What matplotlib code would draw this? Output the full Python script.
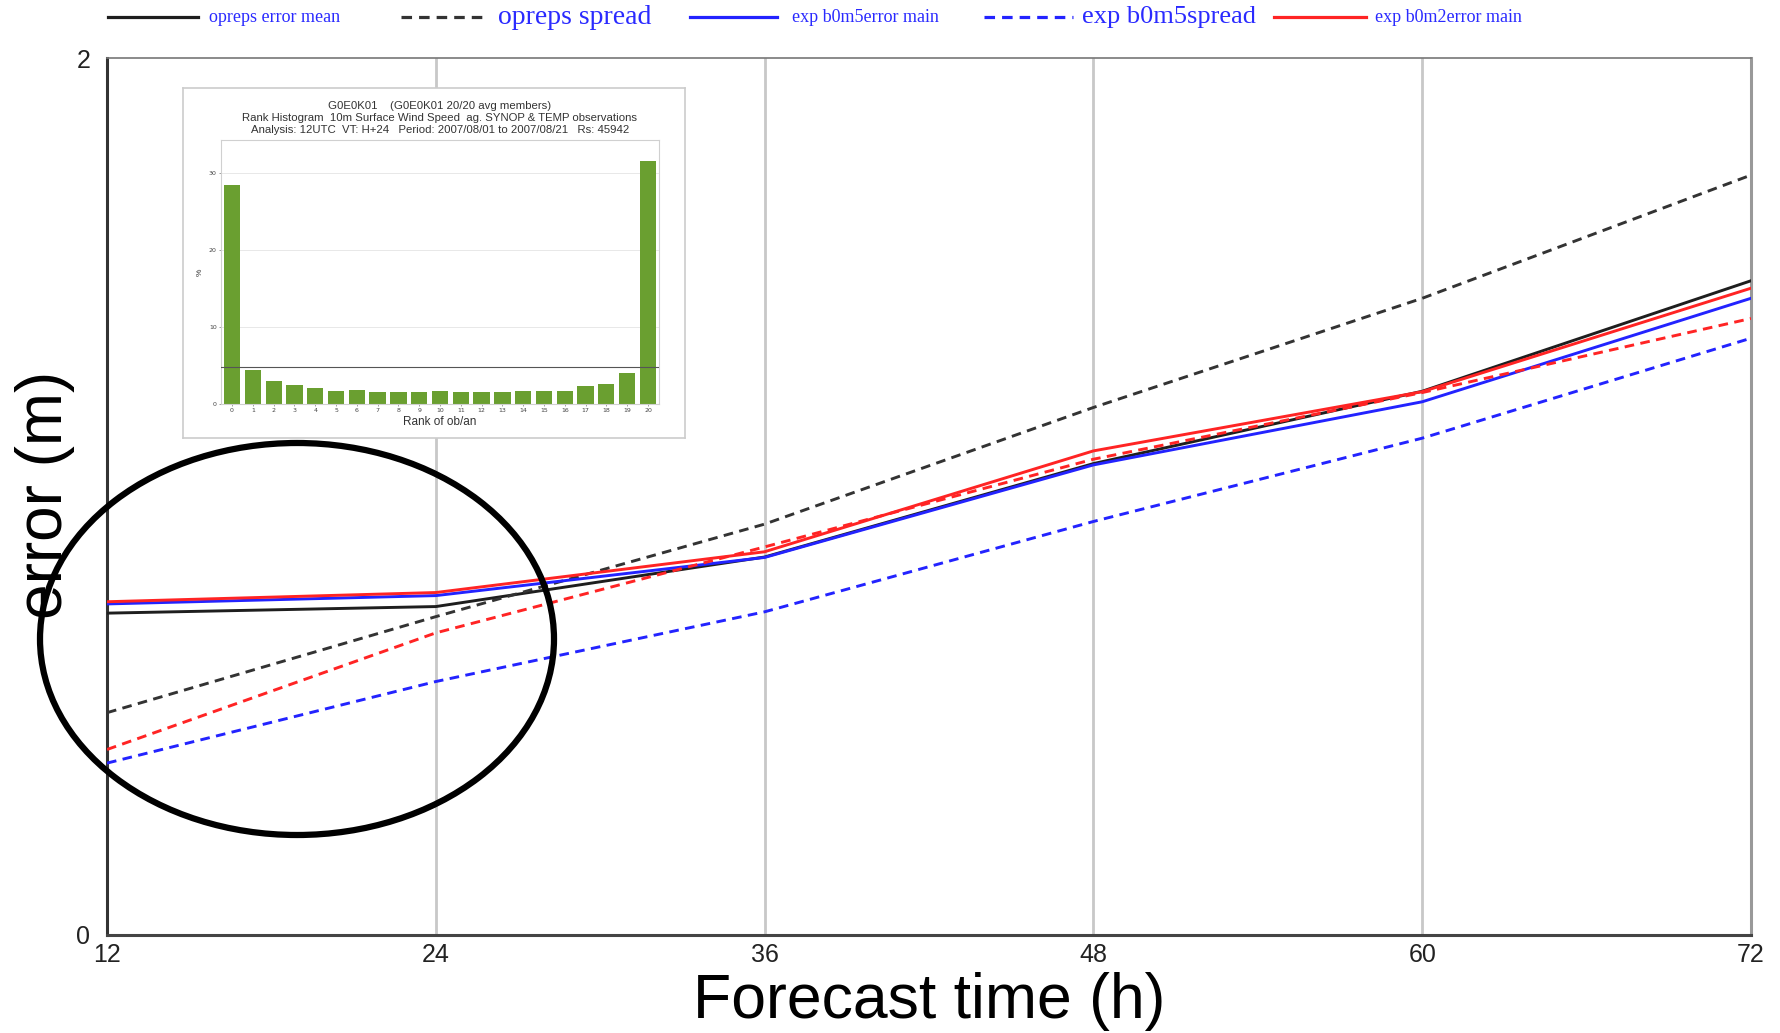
import matplotlib
matplotlib.use("Agg")
import matplotlib.pyplot as plt
from matplotlib.lines import Line2D
from matplotlib.patches import Ellipse
import numpy as np

# ---------------- data ----------------
hours = [12, 24, 36, 48, 60, 72]
opreps_error_mean = [0.734, 0.749, 0.862, 1.075, 1.240, 1.492]
opreps_spread = [0.507, 0.726, 0.937, 1.203, 1.452, 1.733]
b0m5_error_mean = [0.755, 0.774, 0.861, 1.072, 1.216, 1.452]
b0m5_spread = [0.392, 0.578, 0.737, 0.943, 1.133, 1.361]
b0m2_error_mean = [0.760, 0.781, 0.874, 1.104, 1.239, 1.475]
b0m2_spread = [0.423, 0.689, 0.885, 1.085, 1.237, 1.406]

legend_labels = ["opreps error mean", "opreps spread", "exp b0m5error main",
                 "exp b0m5spread", "exp b0m2error main"]

x_ticks = [12, 24, 36, 48, 60, 72]
y_ticks = [0, 2]

# inset rank histogram
ranks = list(range(21))
rank_pct = [28.4, 4.4, 3.0, 2.5, 2.1, 1.75, 1.85, 1.6, 1.6, 1.6, 1.75, 1.6,
            1.6, 1.5, 1.65, 1.75, 1.75, 2.4, 2.6, 4.0, 31.6]
inset_title = ["G0E0K01    (G0E0K01 20/20 avg members)",
               "Rank Histogram  10m Surface Wind Speed  ag. SYNOP & TEMP observations",
               "Analysis: 12UTC  VT: H+24   Period: 2007/08/01 to 2007/08/21   Rs: 45942"]

# ---------------- figure ----------------
W, H = 1781, 1033
fig = plt.figure(figsize=(W / 100, H / 100), dpi=100)
fig.patch.set_facecolor("white")


def fx(px):
    return px / W


def fy(py):
    return 1 - py / H


L, R, T, B = 107, 1751, 58, 935
ax = fig.add_axes([fx(L), fy(B), fx(R - L), (B - T) / H])

BLACK = "#1e1e1e"
BLUE = "#2323ff"
RED = "#ff2424"
dash = (0, (3.3, 2.2))
lw = 2.1

ax.plot(hours, opreps_error_mean, color=BLACK, lw=lw, zorder=3)
ax.plot(hours, opreps_spread, color="#333333", lw=lw, ls=dash, zorder=3)
ax.plot(hours, b0m5_error_mean, color=BLUE, lw=lw, zorder=4)
ax.plot(hours, b0m5_spread, color=BLUE, lw=lw, ls=dash, zorder=4)
ax.plot(hours, b0m2_spread, color=RED, lw=lw, ls=dash, zorder=5)
ax.plot(hours, b0m2_error_mean, color=RED, lw=lw, zorder=5)

ax.set_xlim(12, 72)
ax.set_ylim(0, 2)
ax.set_xticks(x_ticks)
ax.set_yticks(y_ticks)
ax.set_xticklabels([str(v) for v in x_ticks], fontsize=18, family="Liberation Sans", color="#222222")
ax.set_yticklabels([str(v) for v in y_ticks], fontsize=18, family="Liberation Sans", color="#222222")
ax.tick_params(axis="x", length=0, pad=6)
ax.tick_params(axis="y", length=0, pad=12)
for xv in x_ticks[1:-1]:
    ax.axvline(xv, color="#c8c8c8", lw=2.0, zorder=1)

ax.spines["left"].set_color("#333333")
ax.spines["left"].set_linewidth(2.2)
ax.spines["bottom"].set_color("#444444")
ax.spines["bottom"].set_linewidth(2.2)
ax.spines["top"].set_color("#777777")
ax.spines["top"].set_linewidth(1.2)
ax.spines["right"].set_color("#999999")
ax.spines["right"].set_linewidth(2.2)

ax.set_xlabel("Forecast time (h)", fontsize=45, family="Liberation Sans", va="baseline")
ax.xaxis.set_label_coords(0.5, (B - 1018) / (B - T))
ax.set_ylabel("error (m)", fontsize=46, family="Liberation Sans", va="baseline",
              rotation_mode="anchor")
ax.yaxis.set_label_coords((62 - L) / (R - L), (B - 495) / (B - T))

# ---------------- legend (manual, above plot) ----------------
leg_y = 17
leg_items = [
    (108, 198, BLACK, "-", 209, 13),
    (401, 483, "#333333", dash, 498, 20),
    (690, 777, BLUE, "-", 792, 13),
    (984, 1073, BLUE, dash, 1082, 19),
    (1274, 1366, RED, "-", 1375, 13),
]
for (x0, x1, c, ls, tx, fs), lab in zip(leg_items, legend_labels):
    fig.add_artist(Line2D([fx(x0), fx(x1)], [fy(leg_y), fy(leg_y)], color=c, ls=ls,
                          lw=2.3, transform=fig.transFigure))
    fig.text(fx(tx), fy(leg_y), lab, color="#2a2aff", fontsize=fs,
             family="Liberation Serif", ha="left", va="center")

# ---------------- inset ----------------
box = fig.add_axes([fx(183), fy(438), fx(685 - 183), (438 - 88) / H])
box.set_xticks([])
box.set_yticks([])
box.set_facecolor("white")
for s in box.spines.values():
    s.set_color("#cccccc")
    s.set_linewidth(1.2)

axi = fig.add_axes([fx(221), fy(404), fx(659 - 221), (404 - 140) / H])
axi.bar(ranks, rank_pct, width=0.78, color="#6a9f30", zorder=2)
axi.axhline(100 / 21, color="#555555", lw=0.8, zorder=3)
axi.set_xlim(-0.53, 20.53)
axi.set_ylim(0, 34.3)
axi.set_xticks(ranks)
axi.set_xticklabels([str(r) for r in ranks], fontsize=4.5, color="#444444")
axi.set_yticks([0, 10, 20, 30])
axi.set_yticklabels(["0", "10", "20", "30"], fontsize=4.5, color="#444444")
axi.tick_params(length=1.5, width=0.5, pad=1.5, colors="#777777", labelcolor="#444444")
axi.grid(axis="y", color="#e4e4e4", lw=0.6, zorder=0)
axi.set_axisbelow(True)
for s in axi.spines.values():
    s.set_color("#d0d0d0")
    s.set_linewidth(0.8)
axi.set_xlabel("Rank of ob/an", fontsize=8.5, family="Liberation Sans", labelpad=2, color="#333333")
axi.set_ylabel("%", fontsize=6, family="Liberation Sans", labelpad=4, color="#333333")
axi.set_title("\n".join(inset_title), fontsize=8.2, family="Liberation Sans",
              pad=5, linespacing=1.25, color="#333333")

# ---------------- annotation ellipse ----------------
ell = Ellipse((fx(297), fy(639)), fx(514), 392 / H, transform=fig.transFigure,
              fill=False, edgecolor="black", lw=4.5, zorder=20)
fig.add_artist(ell)

fig.savefig("out.png", dpi=100)
